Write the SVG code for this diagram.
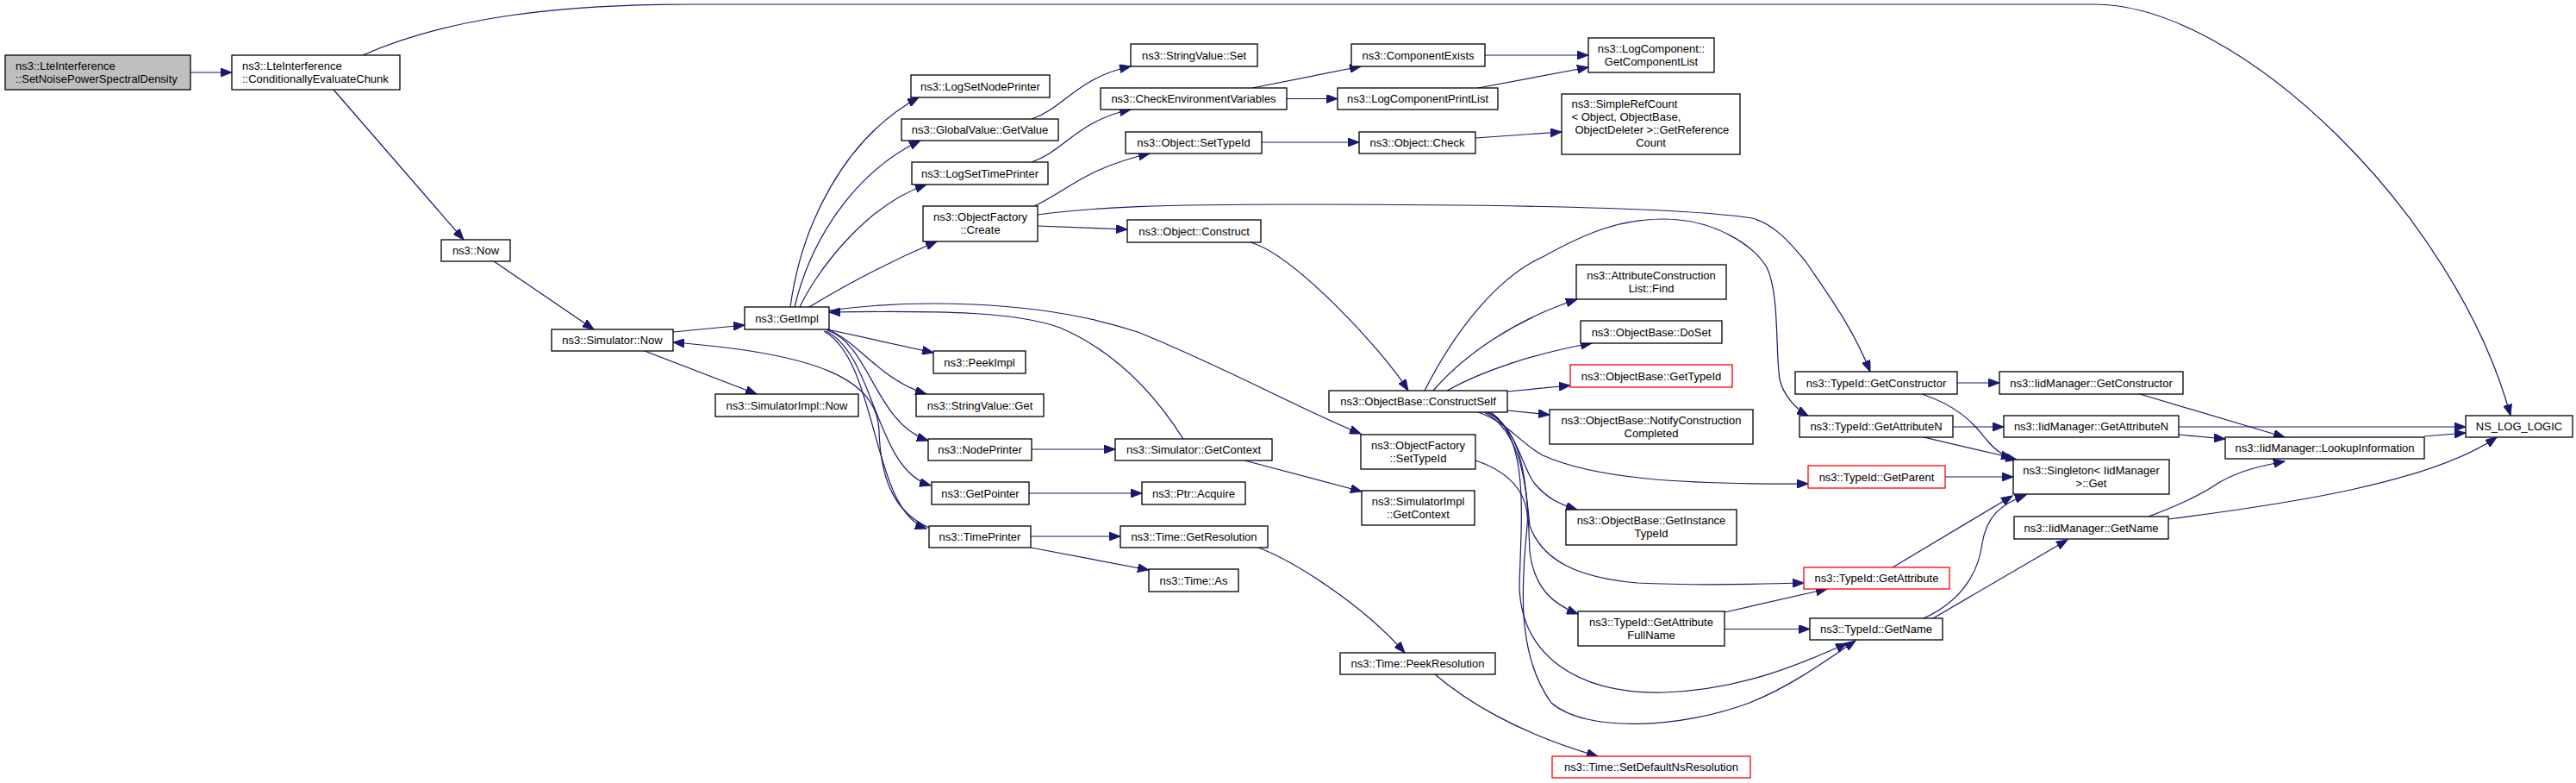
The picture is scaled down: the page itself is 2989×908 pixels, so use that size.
<svg xmlns="http://www.w3.org/2000/svg" width="2989" height="908" viewBox="0 0 2989 908">
<style>
rect{fill:#fff;stroke:#000;stroke-width:1.3}
rect.root{fill:#bfbfbf}
rect.red{stroke:#ff0000}
text{font-family:"Liberation Sans",Arial,Helvetica,sans-serif;font-size:13px;fill:#000}
text.c{text-anchor:middle}
.e path{fill:none;stroke:#191970;stroke-width:1.2;marker-end:url(#ah)}
</style>
<defs>
<marker id="ah" markerUnits="userSpaceOnUse" markerWidth="14" markerHeight="10" refX="13" refY="5" orient="auto">
<path d="M0,0 L13,5 L0,10 z" fill="#191970" stroke="#191970" stroke-width="1"/>
</marker>
</defs>
<rect x="0" y="0" width="2989" height="908" style="fill:#fff;stroke:none"/>
<g id="edges" class="e">
<path d="M221,84 L269,84"/>
<path d="M387,104 L538,278"/>
<path d="M421,64 C520,20 650,5 800,5 L2430,5 C2600,5 2850,250 2913,482"/>
<path d="M573,303 L689,382"/>
<path d="M781,385 L864,377"/>
<path d="M748,407 L878,457"/>
<path d="M917,356 C930,260 980,160 1066,113"/>
<path d="M922,356 C940,280 990,200 1068,163"/>
<path d="M928,356 C945,320 1000,240 1075,214"/>
<path d="M939,356 C990,325 1040,300 1087,280"/>
<path d="M960,382 L1083,409"/>
<path d="M960,382 C995,395 1020,440 1075,457"/>
<path d="M960,383 C1010,400 1015,490 1077,511"/>
<path d="M958,384 C1015,410 1015,545 1080,563"/>
<path d="M956,384 C1020,420 1010,590 1075,613"/>
<path d="M1078,612 C1040,595 1022,560 1020,500 C1018,440 950,410 781,397"/>
<path d="M1373,509 C1345,465 1300,410 1230,380 C1180,362 1100,360 962,362"/>
<path d="M962,360 C1050,348 1200,345 1320,385 C1420,425 1520,480 1579,503"/>
<path d="M1197,521 L1294,521"/>
<path d="M1194,572 L1325,572"/>
<path d="M1196,622 L1300,622"/>
<path d="M1196,635 L1333,661"/>
<path d="M1197,138 C1235,125 1250,90 1312,77"/>
<path d="M1197,188 C1235,175 1250,140 1312,127"/>
<path d="M1200,239 C1240,220 1260,195 1334,178"/>
<path d="M1204,262 L1308,266"/>
<path d="M1204,249 C1270,240 1350,237 1500,237 C1700,237 1950,240 2033,253 C2060,260 2080,285 2095,303 C2120,340 2150,380 2170,431"/>
<path d="M1453,102 L1579,77"/>
<path d="M1493,114.5 L1552,114.5"/>
<path d="M1464,165 L1577,165"/>
<path d="M1451,281 C1500,295 1600,400 1634,453"/>
<path d="M1722,64 L1843,64"/>
<path d="M1715,102 L1843,78"/>
<path d="M1712,160 L1812,153"/>
<path d="M1653,453 C1690,380 1740,320 1790,298 C1840,270 1880,254 1930,254 C1990,254 2035,285 2050,310 C2065,340 2060,410 2065,440 C2070,460 2085,475 2098,482"/>
<path d="M1663,453 C1700,410 1760,370 1830,347"/>
<path d="M1679,453 C1720,430 1780,410 1847,398"/>
<path d="M1749,454 L1822,447"/>
<path d="M1749,476 L1798,481"/>
<path d="M1715,478 C1750,490 1765,515 1790,528 C1850,555 1950,562 2098,561"/>
<path d="M1725,478 C1760,495 1765,540 1780,560 C1795,578 1810,585 1830,591"/>
<path d="M1722,478 C1765,500 1770,560 1775,610 C1790,650 1830,670 1900,676 C1980,680 2040,677 2093,676"/>
<path d="M1727,478 C1768,500 1772,560 1775,640 C1780,680 1800,700 1831,712"/>
<path d="M1730,478 C1775,510 1765,600 1763,680 C1765,760 1830,805 1930,803 C2020,800 2090,770 2143,746"/>
<path d="M1712,534 C1760,550 1775,580 1772,610 C1765,680 1760,760 1800,815 C1840,850 1950,845 2030,815 C2080,795 2120,765 2153,743"/>
<path d="M2001,710 L2120,683"/>
<path d="M2001,729.5 L2100,729.5"/>
<path d="M1444,534 L1580,570"/>
<path d="M1460,635 C1500,650 1580,700 1630,757"/>
<path d="M1665,782 C1700,812 1760,850 1854,877"/>
<path d="M2271,444 L2320,444"/>
<path d="M2266,495 L2325,495"/>
<path d="M2230,457 C2270,470 2290,490 2305,510 C2315,522 2325,530 2340,533"/>
<path d="M2232,507 L2335,531"/>
<path d="M2257,553 L2336,553"/>
<path d="M2196,658 L2335,575"/>
<path d="M2232,717 C2270,700 2295,670 2300,630 C2305,600 2320,585 2351,574"/>
<path d="M2243,717 L2399,626"/>
<path d="M2483,457 L2651,507"/>
<path d="M2528,495 L2861,495"/>
<path d="M2528,504 L2582,509"/>
<path d="M2813,506 L2861,502"/>
<path d="M2493,599 C2530,585 2560,570 2574,560 C2600,545 2625,540 2651,535"/>
<path d="M2516,602 C2650,585 2820,560 2897,507"/>
</g>
<g id="n1"><rect class="root" x="6" y="64" width="215" height="40"/><text x="18" y="80.5">ns3::LteInterference</text><text x="18" y="95.5">::SetNoisePowerSpectralDensity</text></g>
<g id="n2"><rect x="269" y="64" width="195" height="40"/><text x="281" y="80.5">ns3::LteInterference</text><text x="281" y="95.5">::ConditionallyEvaluateChunk</text></g>
<g id="n3"><rect x="512" y="278" width="80" height="25"/><text class="c" x="552" y="295">ns3::Now</text></g>
<g id="n4"><rect x="640" y="382" width="141" height="25"/><text class="c" x="710.5" y="399">ns3::Simulator::Now</text></g>
<g id="n5"><rect x="864" y="356" width="98" height="26"/><text class="c" x="913" y="373.5">ns3::GetImpl</text></g>
<g id="n6"><rect x="830" y="457" width="166" height="26"/><text class="c" x="913" y="474.5">ns3::SimulatorImpl::Now</text></g>
<g id="n7"><rect x="1083" y="407" width="107" height="26"/><text class="c" x="1136.5" y="424.5">ns3::PeekImpl</text></g>
<g id="n8"><rect x="1063" y="457" width="148" height="26"/><text class="c" x="1137" y="474.5">ns3::StringValue::Get</text></g>
<g id="n9"><rect x="1077" y="509" width="120" height="25"/><text class="c" x="1137" y="526">ns3::NodePrinter</text></g>
<g id="n10"><rect x="1294" y="509" width="182" height="25"/><text class="c" x="1385" y="526">ns3::Simulator::GetContext</text></g>
<g id="n11"><rect x="1081" y="559" width="113" height="26"/><text class="c" x="1137.5" y="576.5">ns3::GetPointer</text></g>
<g id="n12"><rect x="1325" y="559" width="120" height="26"/><text class="c" x="1385" y="576.5">ns3::Ptr::Acquire</text></g>
<g id="n13"><rect x="1057" y="87" width="161" height="26"/><text class="c" x="1137.5" y="104.5">ns3::LogSetNodePrinter</text></g>
<g id="n14"><rect x="1046" y="138" width="182" height="25"/><text class="c" x="1137" y="155">ns3::GlobalValue::GetValue</text></g>
<g id="n15"><rect x="1058" y="188" width="158" height="26"/><text class="c" x="1137" y="205.5">ns3::LogSetTimePrinter</text></g>
<g id="n16"><rect x="1071" y="239" width="133" height="41"/><text class="c" x="1137.5" y="256">ns3::ObjectFactory</text><text class="c" x="1137.5" y="271">::Create</text></g>
<g id="n17"><rect x="1312" y="51" width="147" height="26"/><text class="c" x="1385.5" y="68.5">ns3::StringValue::Set</text></g>
<g id="n18"><rect x="1277" y="102" width="216" height="25"/><text class="c" x="1385" y="119">ns3::CheckEnvironmentVariables</text></g>
<g id="n19"><rect x="1306" y="153" width="158" height="25"/><text class="c" x="1385" y="170">ns3::Object::SetTypeId</text></g>
<g id="n20"><rect x="1308" y="255" width="155" height="26"/><text class="c" x="1385.5" y="272.5">ns3::Object::Construct</text></g>
<g id="n21"><rect x="1568" y="51" width="155" height="26"/><text class="c" x="1645.5" y="68.5">ns3::ComponentExists</text></g>
<g id="n22"><rect x="1843" y="44" width="146" height="40"/><text class="c" x="1916" y="60.5">ns3::LogComponent::</text><text class="c" x="1916" y="75.5">GetComponentList</text></g>
<g id="n23"><rect x="1552" y="102" width="186" height="25"/><text class="c" x="1645" y="119">ns3::LogComponentPrintList</text></g>
<g id="n24"><rect x="1577" y="153" width="135" height="25"/><text class="c" x="1644.5" y="170">ns3::Object::Check</text></g>
<g id="n25"><rect x="1812" y="109" width="207" height="70"/><text x="1823.5" y="124.5">ns3::SimpleRefCount</text><text x="1823.5" y="139.5">&lt; Object, ObjectBase,</text><text x="1827.5" y="154.5">ObjectDeleter &gt;::GetReference</text><text class="c" x="1915.5" y="169.5">Count</text></g>
<g id="n26"><rect x="1829" y="307" width="174" height="40"/><text class="c" x="1916" y="323.5">ns3::AttributeConstruction</text><text class="c" x="1916" y="338.5">List::Find</text></g>
<g id="n27"><rect x="1834" y="372" width="164" height="26"/><text class="c" x="1916" y="389.5">ns3::ObjectBase::DoSet</text></g>
<g id="n28"><rect class="red" x="1822" y="423" width="188" height="26"/><text class="c" x="1916" y="440.5">ns3::ObjectBase::GetTypeId</text></g>
<g id="n29"><rect x="1542" y="453" width="207" height="25"/><text class="c" x="1645.5" y="470">ns3::ObjectBase::ConstructSelf</text></g>
<g id="n30"><rect x="1798" y="475" width="236" height="40"/><text class="c" x="1916" y="491.5">ns3::ObjectBase::NotifyConstruction</text><text class="c" x="1916" y="506.5">Completed</text></g>
<g id="n31"><rect x="1579" y="504" width="133" height="40"/><text class="c" x="1645.5" y="520.5">ns3::ObjectFactory</text><text class="c" x="1645.5" y="535.5">::SetTypeId</text></g>
<g id="n32"><rect x="1580" y="569" width="131" height="40"/><text class="c" x="1645.5" y="585.5">ns3::SimulatorImpl</text><text class="c" x="1645.5" y="600.5">::GetContext</text></g>
<g id="n33"><rect x="2083" y="431" width="188" height="26"/><text class="c" x="2177" y="448.5">ns3::TypeId::GetConstructor</text></g>
<g id="n34"><rect x="2088" y="482" width="178" height="25"/><text class="c" x="2177" y="499">ns3::TypeId::GetAttributeN</text></g>
<g id="n35"><rect class="red" x="2098" y="540" width="159" height="26"/><text class="c" x="2177.5" y="557.5">ns3::TypeId::GetParent</text></g>
<g id="n36"><rect x="1817" y="591" width="198" height="41"/><text class="c" x="1916" y="607.5">ns3::ObjectBase::GetInstance</text><text class="c" x="1916" y="622.5">TypeId</text></g>
<g id="n37"><rect x="1555" y="757" width="180" height="25"/><text class="c" x="1645" y="774">ns3::Time::PeekResolution</text></g>
<g id="n38"><rect class="red" x="1801" y="877" width="230" height="25"/><text class="c" x="1916" y="894">ns3::Time::SetDefaultNsResolution</text></g>
<g id="n39"><rect class="red" x="2093" y="658" width="169" height="25"/><text class="c" x="2177.5" y="675">ns3::TypeId::GetAttribute</text></g>
<g id="n40"><rect x="1831" y="709" width="170" height="40"/><text class="c" x="1916" y="725.5">ns3::TypeId::GetAttribute</text><text class="c" x="1916" y="740.5">FullName</text></g>
<g id="n41"><rect x="2100" y="717" width="154" height="25"/><text class="c" x="2177" y="734">ns3::TypeId::GetName</text></g>
<g id="n42"><rect x="2320" y="431" width="213" height="26"/><text class="c" x="2426.5" y="448.5">ns3::IidManager::GetConstructor</text></g>
<g id="n43"><rect x="2325" y="482" width="203" height="25"/><text class="c" x="2426.5" y="499">ns3::IidManager::GetAttributeN</text></g>
<g id="n44"><rect x="2582" y="507" width="231" height="25"/><text class="c" x="2697.5" y="524">ns3::IidManager::LookupInformation</text></g>
<g id="n45"><rect x="2861" y="482" width="124" height="25"/><text class="c" x="2923" y="499">NS_LOG_LOGIC</text></g>
<g id="n46"><rect x="2336" y="533" width="181" height="40"/><text class="c" x="2426.5" y="549.5">ns3::Singleton&lt; IidManager</text><text class="c" x="2426.5" y="564.5">&gt;::Get</text></g>
<g id="n47"><rect x="2337" y="599" width="179" height="26"/><text class="c" x="2426.5" y="616.5">ns3::IidManager::GetName</text></g>
<g id="n48"><rect x="1078" y="610" width="118" height="25"/><text class="c" x="1137" y="627">ns3::TimePrinter</text></g>
<g id="n49"><rect x="1300" y="610" width="171" height="25"/><text class="c" x="1385.5" y="627">ns3::Time::GetResolution</text></g>
<g id="n50"><rect x="1333" y="660" width="104" height="26"/><text class="c" x="1385" y="677.5">ns3::Time::As</text></g>
</svg>
